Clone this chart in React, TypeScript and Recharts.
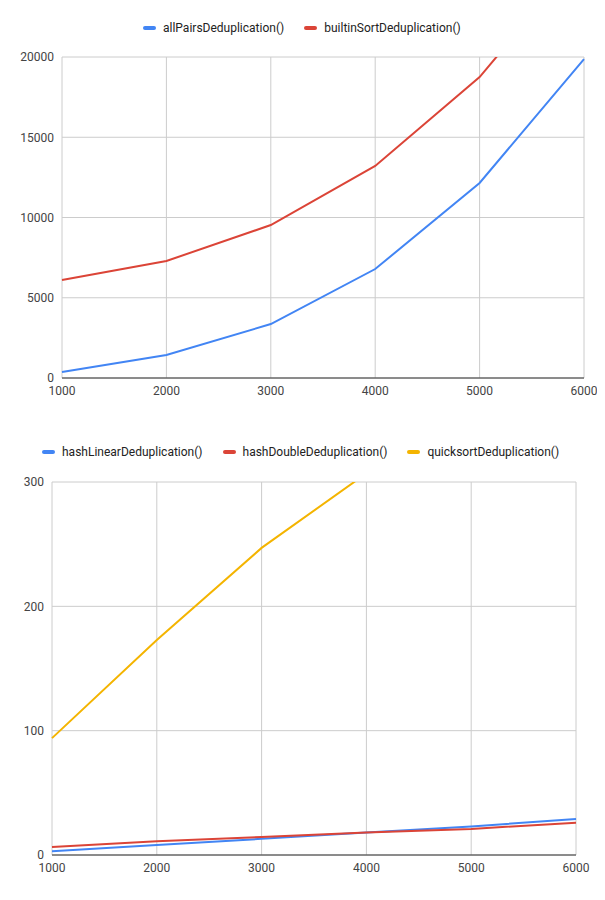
import { LineChart, Line, XAxis, YAxis, CartesianGrid } from 'recharts';

const sizes = [1000, 2000, 3000, 4000, 5000, 6000];
const allPairs = [370, 1430, 3360, 6790, 12150, 19870];
const builtinSort = [6100, 7290, 9530, 13210, 18750, 26500];
const hashLinear = [3, 8, 13, 18, 23, 29];
const hashDouble = [6.5, 11, 14.5, 18, 21, 26];
const quicksort = [94, 173, 247, 307, 380, 470];

const topTicks = [0, 5000, 10000, 15000, 20000];
const bottomTicks = [0, 100, 200, 300];

const BLUE = '#4285f4';
const RED = '#db4437';
const YELLOW = '#f4b400';
const FONT = 'Roboto, sans-serif';

const topData = sizes.map((n, i) => ({ n, a: allPairs[i], b: builtinSort[i] }));
const bottomData = sizes.map((n, i) => ({ n, a: hashLinear[i], b: hashDouble[i], c: quicksort[i] }));

function LegendRow({ items, top, left }: { items: [string, string][]; top: number; left: number }) {
  return (
    <div style={{ position: 'absolute', top, left, display: 'flex', gap: 20, fontFamily: FONT, fontSize: 12, color: '#222' }}>
      {items.map(([label, color]) => (
        <div key={label} style={{ display: 'flex', alignItems: 'center' }}>
          <span style={{ display: 'inline-block', width: 13, height: 4, borderRadius: 2, background: color, marginRight: 7 }} />
          {label}
        </div>
      ))}
    </div>
  );
}

const tick = { fill: '#444', fontSize: 12, fontFamily: FONT };

export default function App() {
  return (
    <div style={{ position: 'relative', margin: -8, width: 605, height: 900, background: '#fff' }}>
      <LegendRow items={[['allPairsDeduplication()', BLUE], ['builtinSortDeduplication()', RED]]} top={21} left={143} />
      <div style={{ position: 'absolute', top: 0, left: 0 }}>
        <LineChart width={605} height={410} data={topData} margin={{ top: 57, right: 21, bottom: 12, left: 10 }}>
          <CartesianGrid stroke="#ccc" />
          <XAxis dataKey="n" type="number" domain={[1000, 6000]} ticks={sizes} height={20} tick={tick} tickLine={false} axisLine={{ stroke: '#333' }} />
          <YAxis domain={[0, 20000]} ticks={topTicks} allowDataOverflow width={52} tick={tick} tickLine={false} axisLine={false} />
          <Line dataKey="a" stroke={BLUE} strokeWidth={2} dot={false} isAnimationActive={false} />
          <Line dataKey="b" stroke={RED} strokeWidth={2} dot={false} isAnimationActive={false} />
        </LineChart>
      </div>
      <LegendRow items={[['hashLinearDeduplication()', BLUE], ['hashDoubleDeduplication()', RED], ['quicksortDeduplication()', YELLOW]]} top={445} left={42} />
      <div style={{ position: 'absolute', top: 410, left: 0 }}>
        <LineChart width={605} height={490} data={bottomData} margin={{ top: 72, right: 29, bottom: 25, left: 10 }}>
          <CartesianGrid stroke="#ccc" />
          <XAxis dataKey="n" type="number" domain={[1000, 6000]} ticks={sizes} height={20} tick={tick} tickLine={false} axisLine={{ stroke: '#333' }} />
          <YAxis domain={[0, 300]} ticks={bottomTicks} allowDataOverflow width={42} tick={tick} tickLine={false} axisLine={false} />
          <Line dataKey="a" stroke={BLUE} strokeWidth={2} dot={false} isAnimationActive={false} />
          <Line dataKey="b" stroke={RED} strokeWidth={2} dot={false} isAnimationActive={false} />
          <Line dataKey="c" stroke={YELLOW} strokeWidth={2} dot={false} isAnimationActive={false} />
        </LineChart>
      </div>
    </div>
  );
}
